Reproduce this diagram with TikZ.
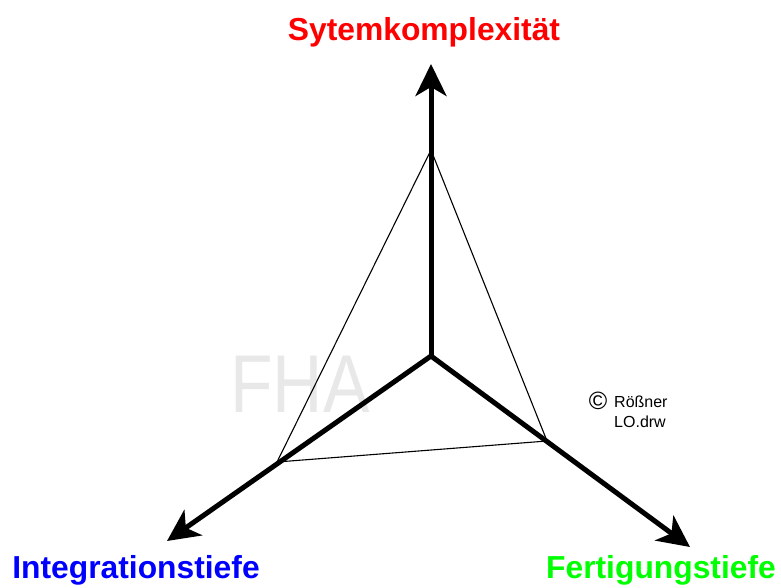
\documentclass[tikz,border=0pt]{standalone}
\usepackage{fontspec}
\setmainfont{Liberation Sans}
\usetikzlibrary{arrows.meta,positioning,calc}

\definecolor{axisred}{RGB}{255,0,0}
\definecolor{axisblue}{RGB}{0,0,255}
\definecolor{axisgreen}{RGB}{0,255,0}

\tikzset{
	axis/.style={line width=5pt,-{Stealth[length=32pt,width=31pt,inset=9pt]}},
	face/.style={line width=1.1pt},
	axislabel/.style={font=\fontsize{31.8}{34}\selectfont\bfseries,anchor=base,inner sep=0pt},
	smalltext/.style={font=\fontsize{16}{16}\selectfont,anchor=base west,inner sep=0pt}
}

\begin{document}
\begin{tikzpicture}[x=1pt,y=-1pt]
	\useasboundingbox (0,0) rectangle (781,588);
	
	% axes
	\coordinate (O) at (431,356);
	\coordinate (Ztip) at (431,64);
	\coordinate (Ltip) at (167,541);
	\coordinate (Rtip) at (690,547);
	
	% watermark
	\node[text=gray!18,font=\fontsize{82}{82}\selectfont,xscale=0.85,anchor=base west,inner sep=0pt] (fha) at (230,412) {FHA};
	
	% triangle
	\coordinate (T) at (431,150);
	\coordinate (L) at (277,462);
	\coordinate (R) at (547,441);
	\draw[face] (T)--(L)--(R)--cycle;
	
	\draw[axis] (O)--(Ztip);
	\draw[axis] (O)--(Ltip);
	\draw[axis] (O)--(Rtip);
	
	% labels
	\node[axislabel,text=axisred] (sys) at (424,41) {Sytemkomplexität};
	\node[axislabel,text=axisblue] (integ) at (136,578) {Integrationstiefe};
	\node[axislabel,text=axisgreen] (fert) at (661,578) {Fertigungstiefe};
	
	% copyright
	\node[font=\fontsize{25}{25}\selectfont,inner sep=0pt] (copy) at (598,401) {©};
	\node[smalltext] (author) at (614,407) {Rößner};
	\node[smalltext] (file) at (614,427) {LO.drw};
\end{tikzpicture}
\end{document}
